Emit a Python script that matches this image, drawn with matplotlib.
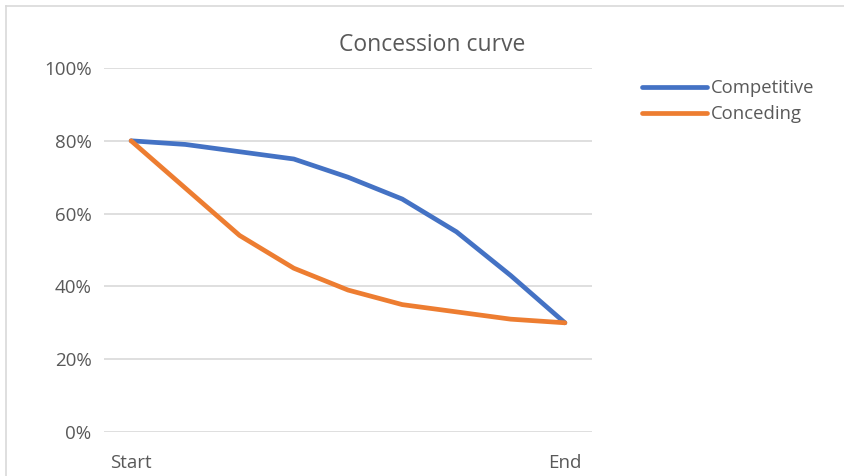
import matplotlib
matplotlib.use("Agg")
import matplotlib.pyplot as plt
from matplotlib.lines import Line2D
from matplotlib.ticker import FuncFormatter

# Concession path over the negotiation rounds (share of initial demand, %)
steps = ["Start", "", "", "", "", "", "", "", "End"]
competitive = [80, 79, 77, 75, 70, 64, 55, 43, 30]
conceding = [80, 67, 54, 45, 39, 35, 33, 31, 30]
y_ticks = [0, 20, 40, 60, 80, 100]

BLUE = "#4472C4"
ORANGE = "#ED7D31"
GRID = "#D9D9D9"
TEXT = "#595959"

plt.rcParams["font.family"] = ["Open Sans", "DejaVu Sans"]

W, H = 844, 476
fig = plt.figure(figsize=(W / 100, H / 100), dpi=100)
ax = fig.add_axes([104 / W, 1 - 432 / H, (592 - 104) / W, (432 - 68) / H])

x = list(range(len(steps)))
ax.plot(x, competitive, color=BLUE, lw=3.4, solid_capstyle="round",
        solid_joinstyle="round", label="Competitive", zorder=3)
ax.plot(x, conceding, color=ORANGE, lw=3.4, solid_capstyle="round",
        solid_joinstyle="round", label="Conceding", zorder=3)

ax.set_xlim(-0.5, len(steps) - 0.5)
ax.set_ylim(0, 100)
ax.set_yticks(y_ticks)
ax.yaxis.set_major_formatter(FuncFormatter(lambda v, _: f"{v:.0f}%"))
ax.set_xticks(x)
ax.set_xticklabels(steps)
ax.grid(axis="y", color=GRID, lw=1.2)
ax.set_axisbelow(True)
for s in ax.spines.values():
    s.set_visible(False)
ax.tick_params(axis="both", length=0, labelsize=13.5, colors=TEXT)
ax.tick_params(axis="y", pad=9)
ax.tick_params(axis="x", pad=16)

fig.text(432 / W, 1 - 45 / H, "Concession curve", ha="center", va="center",
         fontsize=16.5, color=TEXT)

handles = [Line2D([], [], color=BLUE, lw=3.4, solid_capstyle="round"),
           Line2D([], [], color=ORANGE, lw=3.4, solid_capstyle="round")]
fig.legend(handles, ["Competitive", "Conceding"], loc="upper left",
           bbox_to_anchor=(642 / W, 1 - 79 / H), frameon=False,
           fontsize=13.3, labelcolor=TEXT, handlelength=3.5,
           handletextpad=0.22, labelspacing=0.45, borderpad=0,
           borderaxespad=0)

# Light chart-area border along the top and left edges
fig.add_artist(Line2D([6 / W, 1], [1 - 6 / H, 1 - 6 / H], color=GRID,
                      lw=1.2, transform=fig.transFigure))
fig.add_artist(Line2D([6 / W, 6 / W], [0, 1 - 6 / H], color=GRID,
                      lw=1.2, transform=fig.transFigure))

fig.savefig("out.png", dpi=100, facecolor="white")
